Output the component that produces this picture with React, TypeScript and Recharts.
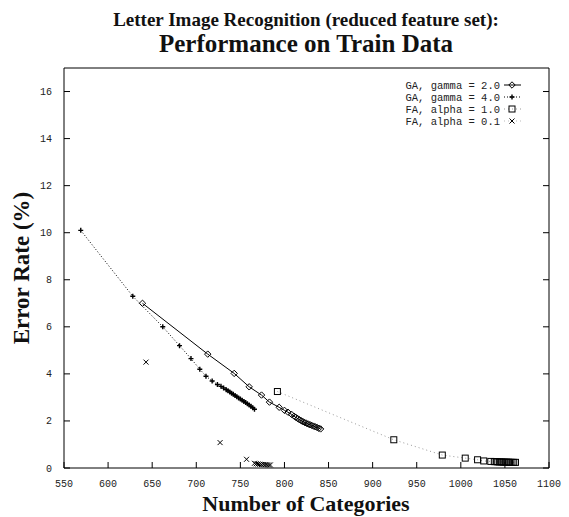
import React from 'react';
import { ComposedChart, Scatter, XAxis, YAxis } from 'recharts';

const xTicks = [550, 600, 650, 700, 750, 800, 850, 900, 950, 1000, 1050, 1100];
const yTicks = [0, 2, 4, 6, 8, 10, 12, 14, 16];

const gaGamma2X = [639, 713, 743, 760, 774, 783, 794, 800, 804, 808, 811, 813, 815, 817, 819, 821, 823, 825, 827, 829, 831, 833, 835, 837, 839, 841];
const gaGamma2Y = [7.0, 4.84, 4.02, 3.45, 3.1, 2.8, 2.58, 2.45, 2.37, 2.28, 2.2, 2.15, 2.1, 2.05, 2.01, 1.97, 1.93, 1.9, 1.87, 1.84, 1.81, 1.78, 1.75, 1.72, 1.69, 1.66];

const gaGamma4X = [569, 628, 662, 681, 694, 704, 711, 718, 724, 728, 731, 734, 736, 738, 740, 742, 744, 746, 748, 750, 752, 754, 756, 758, 760, 762, 764, 766];
const gaGamma4Y = [10.1, 7.3, 6.0, 5.2, 4.65, 4.2, 3.9, 3.7, 3.55, 3.47, 3.4, 3.33, 3.28, 3.23, 3.18, 3.13, 3.08, 3.03, 2.98, 2.93, 2.88, 2.83, 2.78, 2.73, 2.68, 2.62, 2.56, 2.5];

const faAlpha1X = [792, 924, 979, 1005, 1019, 1026, 1034, 1038, 1040, 1042, 1044, 1046, 1048, 1050, 1052, 1054, 1056, 1058, 1060, 1062];
const faAlpha1Y = [3.25, 1.2, 0.55, 0.42, 0.35, 0.3, 0.28, 0.27, 0.27, 0.26, 0.26, 0.26, 0.25, 0.25, 0.25, 0.25, 0.24, 0.24, 0.24, 0.24];

const faAlpha01X = [643, 727, 757, 766, 768, 770, 772, 774, 776, 778, 780, 782, 784];
const faAlpha01Y = [4.5, 1.08, 0.37, 0.2, 0.18, 0.17, 0.16, 0.15, 0.15, 0.14, 0.14, 0.13, 0.13];

const legendLabels = ['GA, gamma = 2.0', 'GA, gamma = 4.0', 'FA, alpha = 1.0', 'FA, alpha = 0.1'];

const zip = (xs: number[], ys: number[]) => xs.map((x, i) => ({ x, y: ys[i] }));

const Diamond = ({ cx, cy }: any) => (
  <path d={`M${cx},${cy - 3.2}L${cx + 3.2},${cy}L${cx},${cy + 3.2}L${cx - 3.2},${cy}Z`} fill="none" stroke="#000" strokeWidth={1} />
);
const Plus = ({ cx, cy }: any) => (
  <path d={`M${cx - 2.5},${cy}H${cx + 2.5}M${cx},${cy - 2.5}V${cy + 2.5}`} stroke="#000" strokeWidth={1.4} />
);
const Square = ({ cx, cy }: any) => (
  <rect x={cx - 3} y={cy - 3} width={6} height={6} fill="none" stroke="#000" strokeWidth={1} />
);
const Cross = ({ cx, cy }: any) => (
  <path d={`M${cx - 2.5},${cy - 2.5}L${cx + 2.5},${cy + 2.5}M${cx + 2.5},${cy - 2.5}L${cx - 2.5},${cy + 2.5}`} stroke="#000" strokeWidth={1} />
);

const markers = [Diamond, Plus, Square, Cross];
const lineStyles = [
  { stroke: '#000', dash: undefined as string | undefined },
  { stroke: '#000', dash: '1 2' },
  { stroke: '#999', dash: '1 3' },
  { stroke: '#bbb', dash: '1 3' },
];

const LegendBox = () => (
  <svg width={150} height={52} style={{ display: 'block' }}>
    {legendLabels.map((label, i) => {
      const y = 7 + i * 12;
      const M = markers[i];
      const ls = lineStyles[i];
      return (
        <g key={label}>
          <text x={100} y={y + 3.5} textAnchor="end" fontFamily="'Liberation Mono', monospace" fontSize={10.5} fill="#222">
            {label}
          </text>
          <line x1={104} x2={121} y1={y} y2={y} stroke={ls.stroke} strokeDasharray={ls.dash} strokeWidth={1} />
          <M cx={112} cy={y} />
        </g>
      );
    })}
  </svg>
);

const FONT = "'Liberation Mono', monospace";
const TL = 6; // inward tick length
const BM = 12; // bottom tick margin
const LM = 12; // left tick margin
const TC = '#000';

const BottomTick = ({ x, y, payload }: any) => (
  <g>
    <path d={`M${x},${y - BM}V${y - BM - TL}`} stroke={TC} strokeWidth={1} />
    <text x={x} y={y} dy="0.71em" textAnchor="middle" fontFamily={FONT} fontSize={10} fill="#222">{payload.value}</text>
  </g>
);
const TopTick = ({ x, y }: any) => (
  <path d={`M${x},${y}V${y + TL}`} stroke={TC} strokeWidth={1} />
);
const LeftTick = ({ x, y, payload }: any) => (
  <g>
    <path d={`M${x + LM},${y}H${x + LM + TL}`} stroke={TC} strokeWidth={1} />
    <text x={x} y={y} dy="0.355em" textAnchor="end" fontFamily={FONT} fontSize={10} fill="#222">{payload.value}</text>
  </g>
);
const RightTick = ({ x, y }: any) => (
  <path d={`M${x},${y}H${x - TL}`} stroke={TC} strokeWidth={1} />
);

export default function App() {
  return (
    <div style={{ position: 'absolute', left: 0, top: 0, width: 569, height: 517, background: '#fff', fontFamily: "'Liberation Serif', serif", overflow: 'hidden' }}>
      <div style={{ position: 'absolute', left: 26, width: 560, top: 9, textAlign: 'center', fontWeight: 'bold', fontSize: 19, lineHeight: '22px', color: '#111', whiteSpace: 'nowrap' }}>
        Letter Image Recognition (reduced feature set):
      </div>
      <div style={{ position: 'absolute', left: 26, width: 560, top: 30, textAlign: 'center', fontWeight: 'bold', fontSize: 25, lineHeight: '28px', color: '#111', whiteSpace: 'nowrap' }}>
        Performance on Train Data
      </div>
      <div style={{ position: 'absolute', left: 26, width: 560, top: 492, textAlign: 'center', fontWeight: 'bold', fontSize: 22, lineHeight: '24px', color: '#111', whiteSpace: 'nowrap' }}>
        Number of Categories
      </div>
      <div style={{ position: 'absolute', left: 22, top: 268, width: 0, height: 0 }}>
        <div style={{ position: 'absolute', transform: 'translate(-50%, -50%) rotate(-90deg)', whiteSpace: 'nowrap', fontWeight: 'bold', fontSize: 23, lineHeight: '24px', color: '#111' }}>
          Error Rate (%)
        </div>
      </div>
      <div style={{ position: 'absolute', left: 0, top: 0 }}>
        <ComposedChart width={569} height={517} margin={{ top: 67, right: 19, bottom: 48, left: 63 }}>
          <XAxis xAxisId="b" type="number" dataKey="x" domain={[550, 1100]} ticks={xTicks} interval={0} allowDataOverflow
            height={1} tickSize={0} tickMargin={BM} axisLine={{ stroke: '#000' }} tickLine={false} tick={BottomTick} />
          <XAxis xAxisId="t" orientation="top" type="number" domain={[550, 1100]} ticks={xTicks} interval={0} allowDataOverflow
            height={1} tickSize={0} tickMargin={0} axisLine={{ stroke: '#000' }} tickLine={false} tick={TopTick} />
          <YAxis yAxisId="l" type="number" dataKey="y" domain={[0, 17]} ticks={yTicks} interval={0} allowDataOverflow
            width={1} tickSize={0} tickMargin={LM} axisLine={{ stroke: '#000' }} tickLine={false} tick={LeftTick} />
          <YAxis yAxisId="r" orientation="right" type="number" domain={[0, 17]} ticks={yTicks} interval={0} allowDataOverflow
            width={1} tickSize={0} tickMargin={0} axisLine={{ stroke: '#000' }} tickLine={false} tick={RightTick} />
          <Scatter name={legendLabels[3]} xAxisId="b" yAxisId="l" data={zip(faAlpha01X, faAlpha01Y)} shape={Cross} isAnimationActive={false} />
          <Scatter name={legendLabels[2]} xAxisId="b" yAxisId="l" data={zip(faAlpha1X, faAlpha1Y)} shape={Square} isAnimationActive={false}
            line={{ stroke: '#999', strokeDasharray: '1 3', strokeWidth: 1 }} lineType="joint" />
          <Scatter name={legendLabels[1]} xAxisId="b" yAxisId="l" data={zip(gaGamma4X, gaGamma4Y)} shape={Plus} isAnimationActive={false}
            line={{ stroke: '#000', strokeDasharray: '1 2', strokeWidth: 1 }} lineType="joint" />
          <Scatter name={legendLabels[0]} xAxisId="b" yAxisId="l" data={zip(gaGamma2X, gaGamma2Y)} shape={Diamond} isAnimationActive={false}
            line={{ stroke: '#000', strokeWidth: 1 }} lineType="joint" />
        </ComposedChart>
      </div>
      <div style={{ position: 'absolute', left: 400, top: 78 }}>
        <LegendBox />
      </div>
    </div>
  );
}
